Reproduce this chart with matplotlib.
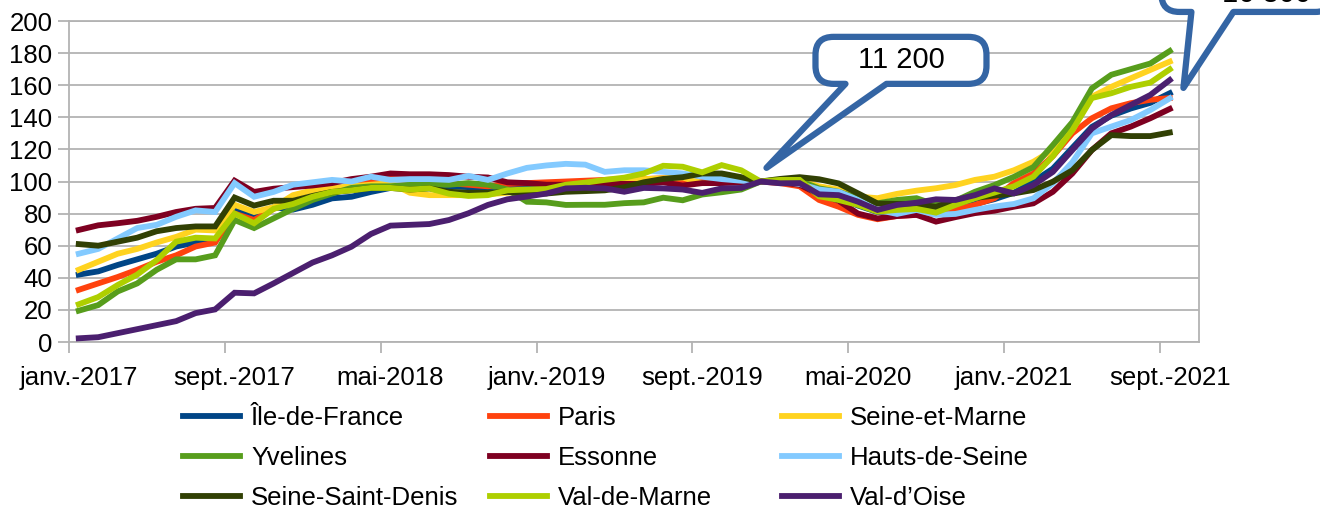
import matplotlib
matplotlib.use("Agg")
import matplotlib.pyplot as plt
import numpy as np
from matplotlib.path import Path
from matplotlib.patches import PathPatch
from matplotlib.transforms import IdentityTransform

plt.rcParams['font.family'] = ['Liberation Sans', 'DejaVu Sans']

# monthly index, janv.-2017 .. sept.-2021 (base 100 = déc. 2019)
n_months = 57
tick_pos = [0, 8, 16, 24, 32, 40, 48, 56]
tick_labels = ['janv.-2017', 'sept.-2017', 'mai-2018', 'janv.-2019',
               'sept.-2019', 'mai-2020', 'janv.-2021', 'sept.-2021']

idf = [42, 44, 48, 51.5, 55, 59.5, 62, 62.5, 82, 78, 84, 82.5, 85.5, 89.5, 90.5, 93.5, 96,
       97, 97, 97, 96.5, 96.5, 97, 97, 97.5, 97.5, 98, 98.5, 99, 100, 101, 102, 101, 102.5, 102, 100,
       100, 99, 94, 90, 85, 81, 82, 83, 82, 83, 86, 89,
       93, 100, 108, 121, 134, 141, 145.5, 149, 155]
paris = [32.5, 36.5, 40.5, 45, 50, 54, 59.5, 62, 80, 76, 83, 87, 90.5, 93.5, 98, 100, 102,
         101, 100, 99, 98, 97, 98.5, 99, 99.5, 100, 100.5, 101, 101.5, 101.5, 102, 100, 101, 103, 102, 100,
         99, 97, 88.5, 84.3, 79.2, 76.5, 78.5, 79.2, 80, 82.3, 85.4, 89.6,
         99, 105, 115.8, 130, 139.4, 145.6, 148.8, 150.9, 152]
seine_marne = [45, 50, 55, 58, 62, 65.5, 70, 69.5, 85.5, 81, 84, 91.5, 94.5, 96, 97, 98, 99,
               93, 91.5, 91.5, 91.5, 92, 93, 94, 95, 96, 97.5, 98.5, 99.5, 101.5, 102, 102.5, 99, 100.5, 101, 100,
               101, 100.5, 97, 95, 90.6, 89.6, 92.3, 94.3, 95.8, 97.8, 101, 103,
               107, 112.3, 119.6, 132, 152.8, 159, 164.3, 169.5, 174.7]
yvelines = [19.5, 23, 31.5, 36.5, 45, 51.5, 51.5, 54, 76, 71, 77, 83, 88.5, 92.5, 96, 97, 97,
            98, 98, 98, 99, 98, 95, 87.4, 87, 85.4, 85.5, 85.5, 86.5, 87, 89.9, 88.3, 91.9, 93.3, 95, 100,
            101, 100.5, 95.7, 93.6, 89.6, 86.4, 88.5, 89.6, 85.4, 88, 93.6, 97.8,
            102.9, 109, 122.7, 137, 158, 166.5, 170, 173.5, 181.3]
essonne = [69.8, 72.7, 74, 75.5, 78, 81, 83, 83.5, 100.5, 93.5, 95.5, 96.5, 97.5, 99, 101.5, 103, 105,
           104.5, 104.5, 104, 103, 102.5, 99.5, 99, 98, 98, 98, 98.5, 98.5, 98.5, 99.5, 97.5, 99, 99, 99.5, 100,
           99.5, 98, 92, 88, 80, 77, 78.5, 79.2, 75, 77.8, 80.3, 81.8,
           84.3, 86.4, 93.6, 105, 119.6, 130, 134.2, 139.4, 145.2]
hauts_seine = [55, 58, 64.5, 71, 73, 78, 82, 81, 99, 90.5, 93.5, 98, 99.5, 101, 100, 103, 101,
               101.5, 101.5, 101, 103.5, 101, 105, 108.5, 110, 111, 110.5, 106, 107, 107, 106, 105, 103, 101.5, 100.5, 100,
               100, 98.5, 95, 93.6, 88.5, 82.3, 79.8, 82.3, 79.2, 79.8, 82.3, 84.4,
               86, 89.5, 98.9, 112, 130, 134.2, 138.3, 144.5, 151.8]
ssd = [61, 60, 62.5, 65, 69, 71, 72, 72, 90, 85, 88, 88, 91, 93.5, 94.5, 96, 96,
       95, 95.7, 93.6, 93, 93, 93.5, 92.5, 92.5, 93.6, 94, 94.5, 96.4, 99.5, 101.6, 102.7, 105, 105, 102.7, 100,
       101.6, 102.7, 101.4, 98.8, 92.6, 86.3, 86, 86, 84.2, 88.3, 89.8, 91.2,
       92.6, 94.7, 99.9, 107, 119.6, 128.9, 128.3, 128.3, 130.5]
val_marne = [23.5, 28, 35.5, 42, 51, 62.5, 65, 64.5, 80, 74, 83, 86, 90.5, 93.5, 94.5, 96, 96,
             95, 95.7, 92.4, 91, 91.5, 94.5, 95, 95.3, 98, 99.3, 101, 102.4, 105, 109.8, 109.2, 105.7, 110.2, 107, 100,
             101, 101, 90.8, 88.5, 85.4, 81.2, 82.3, 82.9, 80.6, 85.4, 89.6, 93.1,
             97, 103, 115.8, 132, 152, 155, 159, 161.6, 169.9]
val_oise = [2.3, 3, 5.5, 8, 10.5, 13, 18, 20.3, 30.7, 30.3, 36.5, 43, 49.5, 54, 59.4, 67.3, 72.5,
            73, 73.5, 76, 80.2, 85.4, 88.9, 90.6, 92.5, 95.7, 96.1, 95.7, 93.6, 96, 95.7, 95, 92.9, 95.7, 96, 100,
            98.9, 99, 92, 91.5, 87.4, 82.3, 85.4, 86.8, 88.9, 88.5, 91.5, 95.7,
            92.6, 97.8, 106, 119.6, 133, 141.4, 147.7, 153.9, 163.2]

names = ['Île-de-France', 'Paris', 'Seine-et-Marne', 'Yvelines', 'Essonne',
         'Hauts-de-Seine', 'Seine-Saint-Denis', 'Val-de-Marne', 'Val-d’Oise']
series = [idf, paris, seine_marne, yvelines, essonne, hauts_seine, ssd, val_marne, val_oise]
colors = ['#004586', '#ff420e', '#ffd320', '#579d1c', '#7e0021',
          '#83caff', '#314004', '#aecf00', '#4b1f6f']

# callouts: label, point in data units
callouts = [('11 200', 35.3, 108.5), ('16 300', 56.7, 158.3)]

W, H = 1320, 511
fig = plt.figure(figsize=(W / 100, H / 100), dpi=100)
ax = fig.add_axes([69 / W, 1 - 342 / H, 1130 / W, 321 / H])

x = np.arange(n_months)
lines = []
for s, c, n in zip(series, colors, names):
    ln, = ax.plot(x, s, color=c, lw=4.2, label=n, solid_joinstyle='miter', zorder=3)
    lines.append(ln)

gray = '#b3b3b3'
ax.set_xlim(-0.5, 57.5)
ax.set_ylim(0, 200)
ax.set_yticks(range(0, 201, 20))
ax.yaxis.grid(True, color=gray, lw=1.3)
ax.set_axisbelow(True)
for sp in ax.spines.values():
    sp.set_color(gray)
    sp.set_linewidth(1.3)
ax.tick_params(axis='y', length=8, width=1.3, color=gray, labelsize=18.5, pad=4)
ax.set_xticks(tick_pos)
ax.set_xticklabels(tick_labels)
ax.set_xticks(np.arange(-0.5, 57, 8), minor=True)
ax.tick_params(axis='x', which='major', length=0, labelsize=18.5, pad=17)
ax.tick_params(axis='x', which='minor', length=8, width=1.3, color=gray)

# legend: three columns placed side by side
col_x = [183, 490, 782]
for k in range(3):
    idx = [k, k + 3, k + 6]
    leg = fig.legend([lines[i] for i in idx], [names[i] for i in idx],
                     loc='upper left', bbox_to_anchor=(col_x[k] / W, 1 - 406 / H),
                     frameon=False, fontsize=18.5, handlelength=2.2, handletextpad=0.45,
                     labelspacing=0.63, borderpad=0, borderaxespad=0)

# speech-bubble callouts, drawn in pixel space
fig.canvas.draw()
blue = '#3465a4'


def bubble(tip, box, base, r=18):
    # tip, box=(x0, y0top, x1, y1bot) and base=(xl, xr) in image pixels (y down)
    x0, yt, x1, yb = box
    xl, xr = base
    pts = [(xl, yb), tip, (xr, yb), (x1 - r, yb), (x1, yb), (x1, yb - r),
           (x1, yt + r), (x1, yt), (x1 - r, yt), (x0 + r, yt), (x0, yt), (x0, yt + r),
           (x0, yb - r), (x0, yb), (x0 + r, yb), (xl, yb)]
    codes = [Path.MOVETO, Path.LINETO, Path.LINETO, Path.LINETO, Path.CURVE3, Path.CURVE3,
             Path.LINETO, Path.CURVE3, Path.CURVE3, Path.LINETO, Path.CURVE3, Path.CURVE3,
             Path.LINETO, Path.CURVE3, Path.CURVE3, Path.CLOSEPOLY]
    pts = [(px, H - py) for px, py in pts]
    p = PathPatch(Path(pts, codes), facecolor='white', edgecolor=blue, lw=4.5,
                  transform=IdentityTransform(), joinstyle='round', zorder=5)
    fig.add_artist(p)


for label, dx, dy in callouts:
    tx, ty = ax.transData.transform((dx, dy))
    tip = (tx, H - ty)
    if label == '11 200':
        box = (tip[0] + 49, tip[1] - 131, tip[0] + 220, tip[1] - 84)
        base = (tip[0] + 79, tip[0] + 120)
        cx, cy = (box[0] + box[2]) / 2, (box[1] + box[3]) / 2
    else:
        box = (tip[0] - 22, tip[1] - 160, tip[0] + 150, tip[1] - 76)
        base = (tip[0] + 8, tip[0] + 50)
        cx, cy = tip[0] + 83, box[3] - 18
    bubble(tip, box, base)
    fig.text(cx / W, 1 - cy / H, label, ha='center', va='center', fontsize=21,
             zorder=6)

fig.savefig('out.png', dpi=100)
